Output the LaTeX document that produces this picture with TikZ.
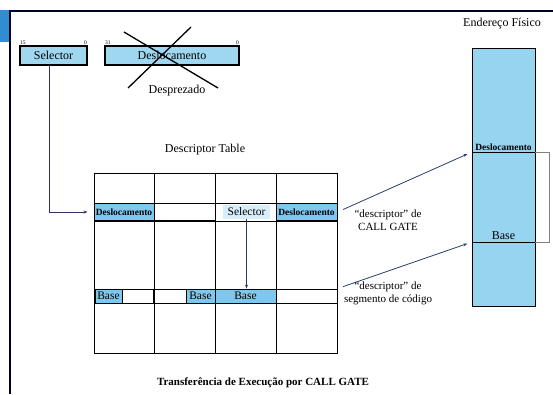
\documentclass[tikz,border=0pt]{standalone}
\usepackage{fontspec}
\setmainfont{Liberation Serif}
\usetikzlibrary{arrows.meta,calc}

\definecolor{barblue}{RGB}{50,140,210}
\definecolor{fieldblue}{RGB}{160,215,240}
\definecolor{cellblue}{RGB}{125,200,238}
\definecolor{paleblue}{RGB}{215,238,248}
\definecolor{memblue}{RGB}{150,212,240}
\definecolor{arrowblue}{RGB}{40,60,110}

\begin{document}
\begin{tikzpicture}[x=1pt,y=-1pt,
    field/.style={draw, line width=1.1pt, fill=fieldblue, minimum height=19pt, inner sep=0pt, font=\fontsize{12}{13}\selectfont},
    bitnum/.style={inner sep=0.5pt, font=\fontsize{5.5}{6}\selectfont},
    cell/.style={draw, line width=0.9pt, minimum height=17pt, inner sep=0pt, font=\fontsize{9.5}{10}\selectfont\bfseries},
    basecell/.style={draw, line width=0.9pt, minimum height=14pt, inner sep=0pt, font=\fontsize{11.5}{12}\selectfont},
    label/.style={font=\fontsize{12}{13}\selectfont},
    link/.style={arrowblue, line width=0.8pt, -{Stealth[length=4pt,width=3pt]}}]

    \useasboundingbox (0,0) rectangle (553,394);

    % Frame of the page
    \fill[barblue] (0,10) rectangle (10,42);
    \draw[line width=1.3pt, black!85!blue] (10,394) -- (10,11) -- (553,11);

    % Selector and offset fields
    \node[field, minimum width=67pt] (sel) at (53.5,55.5) {Selector};
    \node[field, minimum width=134pt] (dsl) at (172,55.5) {Deslocamento};
    \node[bitnum, anchor=south west] (n15) at (sel.north west) {15};
    \node[bitnum, anchor=south east] (n0a) at (sel.north east) {0};
    \node[bitnum, anchor=south west] (n31) at (dsl.north west) {31};
    \node[bitnum, anchor=south east] (n0b) at (dsl.north east) {0};

    % Cross out the offset
    \draw[line width=1.3pt] (124,32) -- (218,88);
    \draw[line width=1.3pt] (191,27) -- (128,88);
    \node[label] (desp) at (177,91) {Desprezado};

    % Descriptor table
    \node[label] (dtab) at (205,150) {Descriptor Table};
    \node[cell, fill=cellblue, minimum width=60pt] (tdl1) at (124,212) {Deslocamento};
    \node[cell, fill=white, minimum width=61pt] (tw2) at (184.5,212) {};
    \node[fill=paleblue, minimum width=47pt, minimum height=14pt, inner sep=0pt,
          font=\fontsize{11.5}{12}\selectfont] (tsel) at (246.5,212) {Selector};
    \node[cell, fill=cellblue, minimum width=61pt] (tdl4) at (306.5,212) {Deslocamento};

    \node[basecell, fill=cellblue, minimum width=27pt] (b1) at (108.5,296) {Base};
    \node[basecell, fill=white, minimum width=31pt] (bw1) at (138,296) {};
    \node[basecell, fill=white, minimum width=32pt] (bw2) at (170,296) {};
    \node[basecell, fill=cellblue, minimum width=29pt] (b2) at (200.5,296) {Base};
    \node[basecell, fill=cellblue, minimum width=61pt] (b3) at (245.5,296) {Base};
    \node[basecell, fill=white, minimum width=61pt] (bw4) at (306.5,296) {};

    \draw[line width=1pt] (94,173) rectangle (337,353);
    \foreach \x in {154,215,276}
        \draw[line width=1pt] (\x,173) -- (\x,353);
    \foreach \y in {203,221,289,303}
        \draw[line width=1pt] (94,\y) -- (337,\y);

    % Physical memory
    \node[label] (phys) at (502,24) {Endereço Físico};
    \draw[line width=1pt, fill=memblue] (472,48) rectangle (535,306);
    \coordinate (mdsl) at (472,152);
    \coordinate (mbase) at (472,242);
    \draw[line width=1pt] (mdsl) -- ++(63,0);
    \draw[line width=1pt] (mbase) -- ++(63,0);
    \node[font=\fontsize{9.5}{10}\selectfont\bfseries, anchor=south, inner sep=1.5pt] (mdl) at ($(mdsl)+(31.5,0)$) {Deslocamento};
    \node[label, anchor=south, inner sep=2pt] (mbs) at ($(mbase)+(31.5,0)$) {Base};
    \draw[gray, line width=0.9pt] ($(mdsl)+(63,0)$) -- ++(14,0) |- ($(mbase)+(63,0)$);

    % Arrows
    \draw[link, black!70!blue!60!gray] ([xshift=-4pt]sel.south) |- ([xshift=-6pt]tdl1.west);
    \draw[link] (tsel.south) -- (tsel.south |- b3.north);
    \draw[link, shorten <=6pt, shorten >=5pt] (tdl4.east) -- (mdsl);
    \draw[link, shorten <=6pt, shorten >=5pt] (bw4.north east) -- (mbase);

    % Labels of the descriptors
    \node[label, align=center, font=\fontsize{11}{13}\selectfont] (dcg) at (388,220) {“descriptor” de\\CALL GATE};
    \node[label, align=center, font=\fontsize{11}{13}\selectfont] (dsc) at (388,293) {“descriptor” de\\segmento de código};

    % Title
    \node[font=\fontsize{11}{12}\selectfont\bfseries] (title) at (263,383) {Transferência de Execução por CALL GATE};

\end{tikzpicture}
\end{document}
